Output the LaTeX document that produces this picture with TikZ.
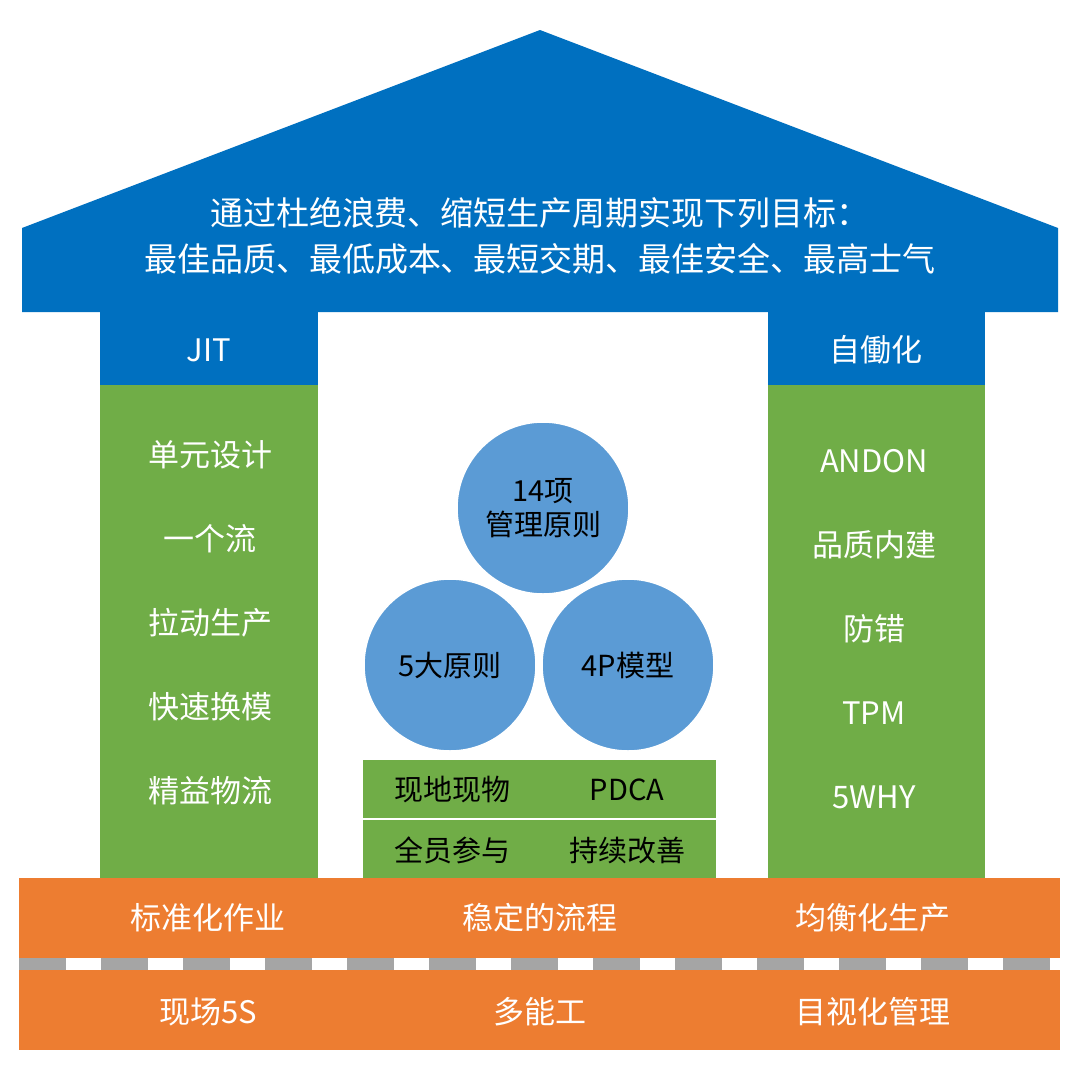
\documentclass[tikz,border=0pt]{standalone}
\usepackage{fontspec}
\setmainfont{Noto Sans CJK SC}
\begin{document}
\begin{tikzpicture}[x=1pt,y=-1pt,
  wt/.style={text=white,font=\fontsize{31}{31}\selectfont,inner sep=0},
  bt/.style={text=black,font=\fontsize{29}{34}\selectfont,inner sep=0,align=center},
  circ/.style={circle,fill=cblue,draw=white,line width=1.5pt,minimum size=172pt,inner sep=0}]
\definecolor{roof}{HTML}{0070C0}
\definecolor{cblue}{HTML}{5B9BD5}
\definecolor{grn}{HTML}{70AD47}
\definecolor{org}{HTML}{ED7D31}
\definecolor{gry}{HTML}{A5A5A5}
\useasboundingbox (0,0) rectangle (1080,1088);
\fill[white] (0,0) rectangle (1080,1088);
% roof
\fill[roof] (22,312) -- (22,228) -- (540,30) -- (1058,228) -- (1058,312) -- cycle;
\node[wt,align=center,font=\fontsize{33}{46}\selectfont] (title) at (540,236) {通过杜绝浪费、缩短生产周期实现下列目标：\\最佳品质、最低成本、最短交期、最佳安全、最高士气};
% pillars
\fill[roof] (100,312) rectangle (318,385);
\fill[grn] (100,385) rectangle (318,878);
\fill[roof] (768,312) rectangle (985,385);
\fill[grn] (768,385) rectangle (985,878);
\node[wt] (jit) at (209,350) {JIT};
\node[wt] (jdh) at (876,350) {自働化};
\foreach \t [count=\i] in {单元设计,一个流,拉动生产,快速换模,精益物流}
  \node[wt] (l\i) at (210,{455+(\i-1)*84}) {\t};
\foreach \t [count=\i] in {ANDON,品质内建,防错,TPM,5WHY}
  \node[wt] (r\i) at (874,{461+(\i-1)*84}) {\t};
% circles
\node[circ] (c1) at (543,508) {};
\node[circ] (c2) at (450,665) {};
\node[circ] (c3) at (628,665) {};
\node[bt] at (c1) {14项\\管理原则};
\node[bt] at (c2) {5大原则};
\node[bt] at (c3) {4P模型};
% green box
\fill[grn] (363,760) rectangle (716,878);
\draw[white,line width=2pt] (363,819) -- (716,819);
\node[bt] (g1) at (452,790) {现地现物};
\node[bt] (g2) at (627,790) {PDCA};
\node[bt] (g3) at (452,850) {全员参与};
\node[bt] (g4) at (627,850) {持续改善};
% base
\fill[org] (19,878) rectangle (1060,958);
\fill[gry] (19,958) rectangle (1060,970);
\foreach \k in {0,...,12}
  \fill[white] ({66+\k*82},958) rectangle ({101+\k*82},970);
\fill[org] (19,970) rectangle (1060,1050);
\node[wt] (b1) at (208,918) {标准化作业};
\node[wt] (b2) at (540,918) {稳定的流程};
\node[wt] (b3) at (873,918) {均衡化生产};
\node[wt] (b4) at (208,1012) {现场5S};
\node[wt] (b5) at (540,1012) {多能工};
\node[wt] (b6) at (873,1012) {目视化管理};
\end{tikzpicture}
\end{document}
